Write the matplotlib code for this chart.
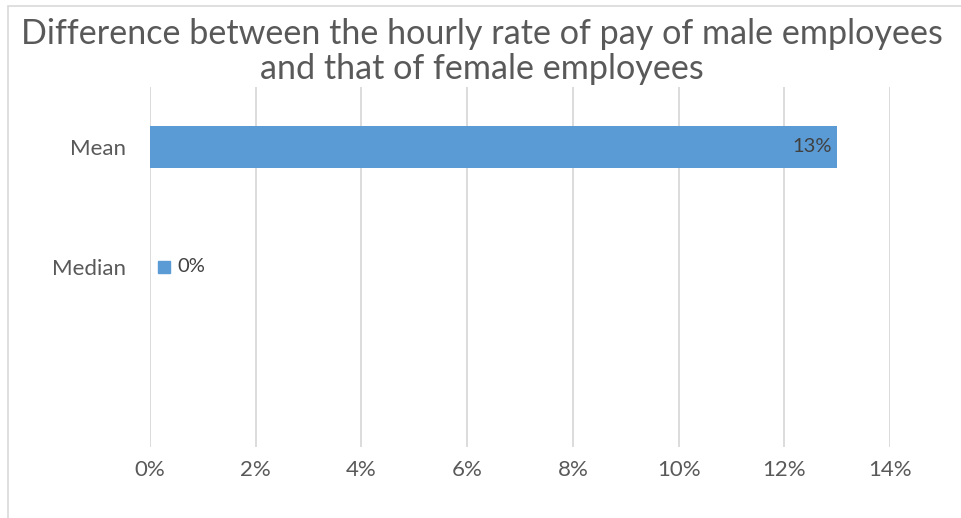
import numpy as np
import matplotlib.pyplot as plt
from matplotlib.patches import Rectangle
from matplotlib.ticker import PercentFormatter

# DATA
categories = ["Mean", "Median", ""]
values = [13, 0, np.nan]
xticks = [0, 2, 4, 6, 8, 10, 12, 14]

bar_color = "#5B9BD5"
text_color = "#595959"
grid_color = "#D9D9D9"

plt.rcParams['font.family'] = ['Lato', 'DejaVu Sans']

fig = plt.figure(figsize=(9.61, 5.18), dpi=100)
fig.patches.append(Rectangle((8 / 961, -0.1), 1.2, 1 - 6 / 518 + 0.1,
                             transform=fig.transFigure, fill=False,
                             edgecolor=grid_color, linewidth=1.2))

ax = fig.add_axes([150 / 961, 1 - 447 / 518, 740 / 961, 360 / 518])
pos = np.arange(len(categories))
ax.barh(pos, np.nan_to_num(values), height=0.35, color=bar_color, zorder=3)

ax.set_xlim(0, 14)
ax.set_ylim(len(categories) - 0.5, -0.5)
ax.set_xticks(xticks)
ax.xaxis.set_major_formatter(PercentFormatter(decimals=0))
ax.set_yticks(pos)
ax.set_yticklabels(categories)
ax.tick_params(axis='both', length=0, labelsize=16, labelcolor=text_color)
ax.tick_params(axis='y', pad=17)
ax.tick_params(axis='x', pad=9)
ax.grid(axis='x', color=grid_color, linewidth=1.3, zorder=0)
for s in ax.spines.values():
    s.set_visible(False)

# data labels
ax.text(values[0] - 0.1, pos[0], f"{values[0]:.0f}%", ha='right', va='center',
        fontsize=14.5, color="#404040", zorder=4)
ax.plot([values[1] + 0.27], [pos[1]], marker='s', markersize=9,
        color=bar_color, linestyle='none', zorder=4)
ax.text(values[1] + 0.52, pos[1], f"{values[1]:.0f}%", ha='left', va='center',
        fontsize=14.5, color="#404040", zorder=4)

fig.text(482 / 961, 1 - 34 / 518, "Difference between the hourly rate of pay of male employees",
         ha='center', va='center', fontsize=24.6, color=text_color)
fig.text(482 / 961, 1 - 69 / 518, "and that of female employees",
         ha='center', va='center', fontsize=24.6, color=text_color)

fig.savefig("out.png", dpi=100)
